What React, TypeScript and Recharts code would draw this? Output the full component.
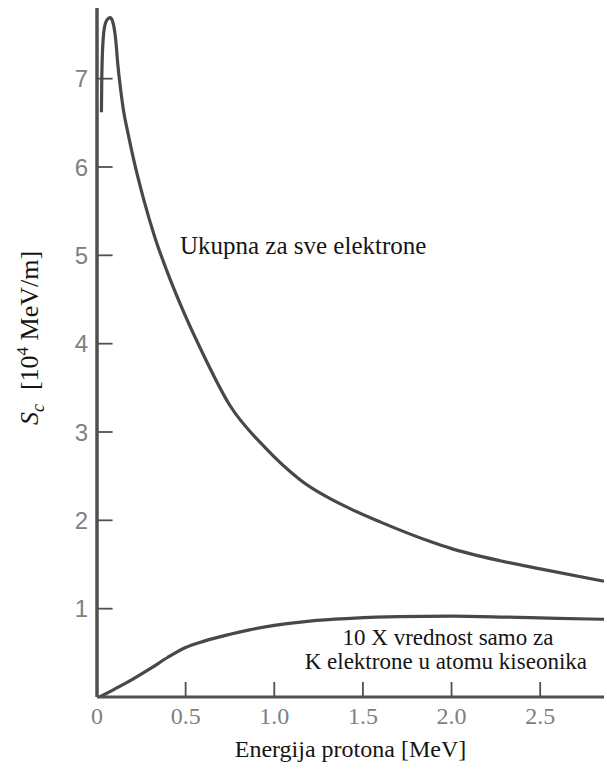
import React from 'react';
import { LineChart, Line, XAxis, YAxis, ReferenceDot, Label } from 'recharts';

// Total stopping power for all electrons (x: MeV, y: 10^4 MeV/m)
const totalX = [0.025, 0.027, 0.032, 0.042, 0.058, 0.075, 0.092, 0.105, 0.118, 0.135, 0.148, 0.175, 0.205, 0.261, 0.327, 0.393, 0.48, 0.58, 0.75, 0.95, 1.145, 1.43, 1.6, 1.88, 2.0, 2.28, 2.5, 2.86];
const totalY = [6.62, 7.0, 7.35, 7.58, 7.67, 7.69, 7.62, 7.45, 7.15, 6.85, 6.66, 6.38, 6.1, 5.65, 5.2, 4.83, 4.4, 3.96, 3.3, 2.82, 2.46, 2.13, 1.98, 1.76, 1.68, 1.54, 1.45, 1.31];

// 10 x value for K electrons of oxygen
const kX = [0.015, 0.1, 0.2, 0.3, 0.4, 0.5, 0.6, 0.75, 0.86, 1.0, 1.2, 1.43, 1.7, 2.0, 2.3, 2.6, 2.86];
const kY = [0.0, 0.09, 0.2, 0.32, 0.45, 0.56, 0.63, 0.71, 0.76, 0.81, 0.86, 0.89, 0.91, 0.915, 0.905, 0.89, 0.88];

const xTicks = [0, 0.5, 1.0, 1.5, 2.0, 2.5];
const yTicks = [1, 2, 3, 4, 5, 6, 7];

const totalLabel = 'Ukupna za sve elektrone';
const kLabel1 = '10 X vrednost samo za';
const kLabel2 = 'K elektrone u atomu kiseonika';
const xTitle = 'Energija protona [MeV]';

const totalData = totalX.map((x, i) => ({ x, y: totalY[i] }));
const kData = kX.map((x, i) => ({ x, y: kY[i] }));

const AXIS = '#505050';
const CURVE = '#484848';
const TICKTXT = '#808080';
const SERIF = "'Liberation Serif', 'Times New Roman', serif";
const SANS = "'Liberation Sans', Arial, sans-serif";
// inward tick-mark lengths in data units (~15 px)
const Y_TICK_DX = 0.088;
const X_TICK_DY = 0.17;

const yTickMarks = yTicks.map((t) => [{ x: 0, y: t }, { x: Y_TICK_DX, y: t }]);
const xTickMarks = xTicks.filter((t) => t > 0).map((t) => [{ x: t, y: 0 }, { x: t, y: X_TICK_DY }]);

const textAt = (value: string, anchor: 'start' | 'middle' | 'end', size: number) => (props: any) => {
  const vb = props.viewBox || {};
  return (
    <text x={vb.x} y={vb.y} textAnchor={anchor} fontFamily={SERIF} fontSize={size} fill="#151515">
      {value}
    </text>
  );
};

const YTitle = () => (
  <text
    x={38}
    y={338}
    transform="rotate(-90, 38, 338)"
    textAnchor="middle"
    fontFamily={SERIF}
    fontSize={26}
    fill="#151515"
  >
    <tspan fontStyle="italic">S</tspan>
    <tspan fontStyle="italic" fontSize={18} dy={6}>c</tspan>
    <tspan dy={-6} dx={14}>[10</tspan>
    <tspan fontSize={17} dy={-10}>4</tspan>
    <tspan dy={10}> MeV/m]</tspan>
  </text>
);

export default function App() {
  return (
    <div style={{ position: 'absolute', left: 0, top: 0, background: '#fff' }}>
      <LineChart width={607} height={769} margin={{ top: 8, right: 3, left: 0, bottom: 0 }}>
        <XAxis
          type="number"
          dataKey="x"
          domain={[0, 2.86]}
          ticks={xTicks}
          allowDataOverflow
          height={72}
          tickSize={0}
          tickMargin={10}
          tickLine={false}
          axisLine={{ stroke: AXIS, strokeWidth: 3 }}
          tickFormatter={(v: number) => (v === 0 ? '0' : v.toFixed(1))}
          tick={{ fill: TICKTXT, fontSize: 24, fontFamily: SERIF }}
        >
          <Label
            value={xTitle}
            position="insideBottom"
            offset={12}
            style={{ fontSize: 24, fontFamily: SERIF, fill: '#151515' }}
          />
        </XAxis>
        <YAxis
          type="number"
          domain={[0, 7.8]}
          ticks={yTicks}
          allowDataOverflow
          width={97}
          tickSize={0}
          tickMargin={9}
          tickLine={false}
          axisLine={{ stroke: AXIS, strokeWidth: 3.5 }}
          tick={{ fill: TICKTXT, fontSize: 24, fontFamily: SANS }}
        >
          <Label content={<YTitle />} />
        </YAxis>
        {yTickMarks.map((d, i) => (
          <Line key={`ytm${i}`} data={d} dataKey="y" type="linear" stroke={AXIS} strokeWidth={1.8} dot={false} isAnimationActive={false} legendType="none" />
        ))}
        {xTickMarks.map((d, i) => (
          <Line key={`xtm${i}`} data={d} dataKey="y" type="linear" stroke={AXIS} strokeWidth={1.8} dot={false} isAnimationActive={false} legendType="none" />
        ))}
        <Line data={totalData} dataKey="y" type="monotone" stroke={CURVE} strokeWidth={3.2} dot={false} isAnimationActive={false} />
        <Line data={kData} dataKey="y" type="monotone" stroke={CURVE} strokeWidth={3.2} dot={false} isAnimationActive={false} />
        <ReferenceDot x={0.468} y={5.017} r={0} fill="none" stroke="none" ifOverflow="visible" label={textAt(totalLabel, 'start', 25)} />
        <ReferenceDot x={1.98} y={0.59} r={0} fill="none" stroke="none" ifOverflow="visible" label={textAt(kLabel1, 'middle', 23)} />
        <ReferenceDot x={1.968} y={0.315} r={0} fill="none" stroke="none" ifOverflow="visible" label={textAt(kLabel2, 'middle', 23)} />
      </LineChart>
    </div>
  );
}
